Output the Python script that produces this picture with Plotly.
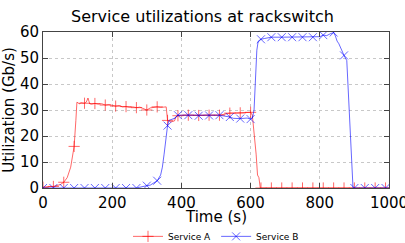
import plotly.graph_objects as go

# Service A (red)
a_time = [0, 10, 20, 30, 40, 50, 60, 70, 80, 90, 95, 98, 105, 110, 120, 125, 130, 135, 140, 150,
          160, 170, 180, 190, 200, 210, 220, 230, 240, 250, 260, 270, 280, 290, 300, 310, 320, 330,
          340, 350, 356, 360, 365, 370, 380, 385, 390, 400, 420, 450, 480, 510, 530, 540, 560, 570,
          590, 600, 605, 610, 616, 620, 624, 628, 630, 660, 690, 720, 750, 780, 810, 840, 870, 900,
          930, 960, 990, 1000]
a_util = [0.3, 0.3, 0.5, 0.6, 0.9, 1.3, 2.2, 4, 8, 16, 26, 33, 32.4, 32.8, 32.6, 33, 34.6, 32.4, 32.2, 32.5,
          32.2, 32.4, 31.9, 32.1, 31.8, 31.5, 31.7, 31.2, 31.3, 31.0, 31.2, 30.9, 31.1, 30.4, 30.0, 30.8, 31.0, 31.2,
          31.0, 31.0, 31.2, 26, 25.6, 25.4, 25.8, 27.5, 27.8, 28, 28, 27.9, 28, 28, 28.6, 28.8, 28.8, 28.9,
          29, 29.1, 28, 22, 13, 5, 4, 0, 0, 0, 0, 0, 0, 0, 0, 0, 0, 0,
          0, 0, 0, 0]

# Service B (blue)
b_time = [0, 30, 60, 90, 120, 150, 180, 210, 240, 270, 280, 290, 300, 310, 320, 330, 340, 345, 350, 355,
          360, 364, 370, 380, 385, 390, 400, 420, 450, 480, 510, 540, 550, 570, 590, 600, 605, 610, 614,
          618, 622, 630, 640, 660, 690, 720, 750, 780, 800, 810, 820, 830, 840, 845, 850, 855, 860, 865,
          870, 878, 885, 890, 896, 900, 930, 960, 990, 1000]
b_util = [0, 0, 0, 0, 0, 0, 0, 0, 0, 0, 0.3, 0.7, 0.9, 1.1, 1.8, 2.8, 5, 8, 13, 19,
          24, 26, 26.3, 26.8, 27.5, 28, 28, 28, 27.8, 27.9, 28, 27.3, 26.8, 26.7, 26.9, 26.5, 26.8, 30, 42,
          53, 56.5, 57.2, 57.5, 58, 58, 58, 58, 58, 58.2, 58.8, 58.6, 59.3, 59.8, 58.5, 56.5, 55.5, 54, 52,
          51, 49, 30, 14, 0, 0, 0, 0, 0, 0]

x_ticks = [0, 200, 400, 600, 800, 1000]
y_ticks = [0, 10, 20, 30, 40, 50, 60]

RED = "rgba(255,0,0,0.75)"
BLUE = "rgba(0,0,255,0.75)"


def marks(ts, vs):
    mx = [t for t in ts if t % 30 == 0]
    my = [v for t, v in zip(ts, vs) if t % 30 == 0]
    return mx, my


mk_a = dict(symbol="cross-thin", size=8, color=RED, line=dict(color=RED, width=0.8))
mk_b = dict(symbol="x-thin", size=8, color=BLUE, line=dict(color=BLUE, width=0.8))

fig = go.Figure()
fig.add_trace(go.Scatter(x=a_time, y=a_util, mode="lines", line=dict(color=RED, width=0.8),
                         showlegend=False, hoverinfo="skip"))
amx, amy = marks(a_time, a_util)
fig.add_trace(go.Scatter(x=amx, y=amy, mode="markers", marker=mk_a, showlegend=False))
fig.add_trace(go.Scatter(x=b_time, y=b_util, mode="lines", line=dict(color=BLUE, width=0.8),
                         showlegend=False, hoverinfo="skip"))
bmx, bmy = marks(b_time, b_util)
fig.add_trace(go.Scatter(x=bmx, y=bmy, mode="markers", marker=mk_b, showlegend=False))
fig.add_trace(go.Scatter(x=[None], y=[None], mode="lines+markers", name="Service A",
                         line=dict(color=RED, width=0.8), marker=mk_a))
fig.add_trace(go.Scatter(x=[None], y=[None], mode="lines+markers", name="Service B",
                         line=dict(color=BLUE, width=0.8), marker=mk_b))

axis_common = dict(showline=True, linecolor="#444444", linewidth=1, mirror="allticks",
                   ticks="inside", ticklen=5, tickcolor="#444444",
                   showgrid=True, gridcolor="#c8c8c8", griddash="dot", gridwidth=1,
                   zeroline=False, tickfont=dict(size=15, color="black"),
                   ticklabeloverflow="allow", automargin=False)

fig.update_layout(
    width=405, height=243,
    margin=dict(l=43, r=16, t=32, b=55, autoexpand=False),
    paper_bgcolor="white", plot_bgcolor="white",
    font=dict(family="DejaVu Sans", color="black"),
    title=dict(text="Service utilizations at rackswitch", x=0.5, xanchor="center",
               y=1 - 16 / 243, yanchor="middle", font=dict(size=16)),
    xaxis=dict(range=[0, 1000], tickvals=x_ticks, ticklabelstandoff=1, **axis_common),
    yaxis=dict(range=[0, 60], tickvals=y_ticks,
               title=dict(text="Utilization (Gb/s)", font=dict(size=15), standoff=8), **axis_common),
    legend=dict(orientation="h", x=0.5, xanchor="center", y=-0.31, yanchor="middle",
                font=dict(size=9), bgcolor="rgba(0,0,0,0)", itemwidth=30),
    annotations=[dict(text="Time (s)", xref="paper", yref="paper", x=0.5, y=-0.186,
                      xanchor="center", yanchor="middle", showarrow=False, font=dict(size=15))],
)

fig.write_html("out.html", config={"displayModeBar": False},
               post_script="document.body.style.margin='0';document.body.style.overflow='hidden';")
